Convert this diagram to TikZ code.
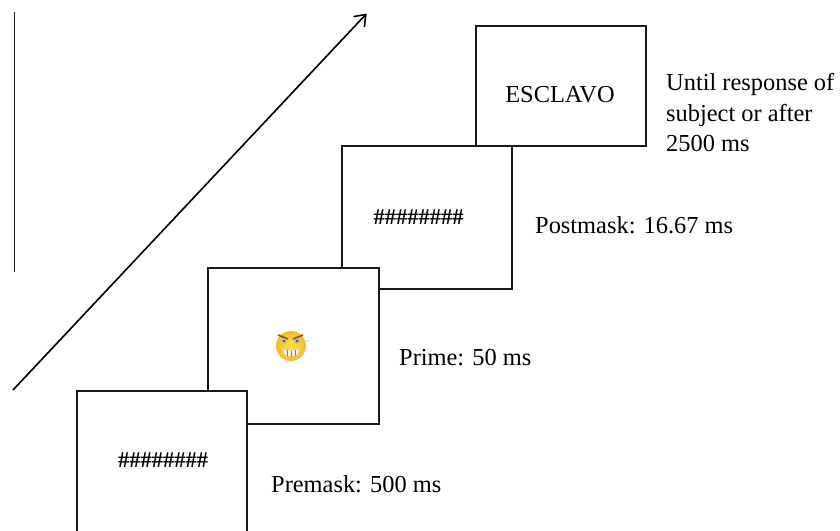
\documentclass[tikz,border=0pt]{standalone}
\usepackage{fontspec}
\setmainfont{Liberation Serif}
\usetikzlibrary{arrows.meta}
\definecolor{facey}{RGB}{252,226,60}
\definecolor{faceo}{RGB}{240,190,50}
\definecolor{browc}{RGB}{125,85,40}
\tikzset{
  trial/.style={draw=black!90,line width=1.6pt,fill=white,anchor=north west,inner sep=0pt,outer sep=0pt},
  lab/.style={font=\fontsize{24.4pt}{30.5pt}\selectfont,anchor=west,align=left,inner sep=0pt},
  stim/.style={font=\fontsize{24.4pt}{28pt}\selectfont,inner sep=0pt},
  hash/.style={font=\fontsize{22.5pt}{28pt}\selectfont\bfseries,inner sep=0pt},
}
\begin{document}
\begin{tikzpicture}[x=1pt,y=-1pt]
\useasboundingbox (0,0) rectangle (840,530);
\fill[white] (0,0) rectangle (840,530);
% trial screens, back to front
\node[trial,minimum width=170pt,minimum height=120pt] (s4) at (476,26) {};
\node[stim] at (560,95) {ESCLAVO};
\node[trial,minimum width=170pt,minimum height=143pt] (s3) at (342,146) {};
\node[hash] at (418.5,217.5) {\#\#\#\#\#\#\#\#};
\node[trial,minimum width=171pt,minimum height=156pt] (s2) at (208,268) {};
\node[trial,minimum width=170pt,minimum height=145pt] (s1) at (77,391) {};
\node[hash] at (163,460) {\#\#\#\#\#\#\#\#};
% emoji
\shade[inner color=facey,outer color=faceo] (291,346) circle (15);
\fill[white!88!gray] (283,349) .. controls (288,351) and (294,351) .. (299,349) -- (298,354) .. controls (295,357) and (287,357) .. (284,354) -- cycle;
\draw[gray,line width=.3pt] (287,350)--(287,356) (291,350.5)--(291,356.5) (295,350)--(295,356);
\draw[browc,line width=1.6pt] (278,335)--(288,339) (303,335)--(293,339);
\fill[gray!55] (284,341) circle (2.8) (297,341) circle (2.8);
\fill[brown!60!black] (284,341) circle (1.4) (297,341) circle (1.4);
\fill[gray!35] (307,341) circle (1.3);
% labels
\node[lab] (l4) at (666,113) {Until response of\\subject or after\\2500 ms};
\node[lab] (l3) at (535,225) {Postmask: 16.67 ms};
\node[lab] (l2) at (399,358) {Prime: 50 ms};
\node[lab] (l1) at (271,484) {Premask: 500 ms};
% time arrow and rule
\coordinate (a0) at (13,390);
\coordinate (a1) at (366.7,13.5);
\draw[line width=1.6pt,-{Straight Barb[length=10pt,width=15pt]}] (a0) -- (a1);
\coordinate (r0) at (14.5,12);
\coordinate (r1) at (14.5,272);
\draw[black!90,line width=1.1pt] (r0) -- (r1);
\end{tikzpicture}
\end{document}
